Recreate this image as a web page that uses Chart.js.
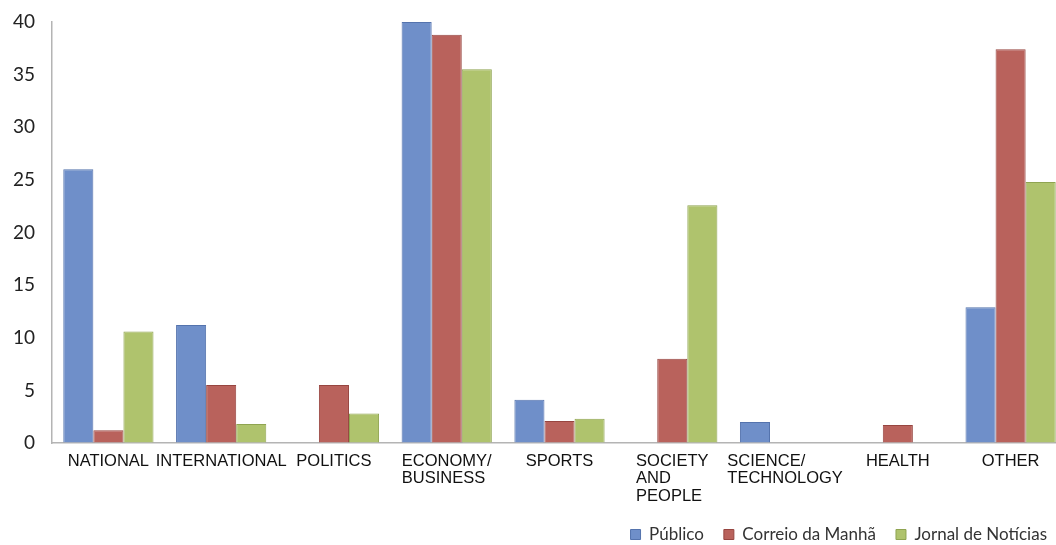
<!DOCTYPE html>
<html>
<head>
<meta charset="utf-8">
<title>News topics by newspaper</title>
<script src="https://cdn.jsdelivr.net/npm/chart.js@4.4.0/dist/chart.umd.min.js"></script>
<style>
  html, body { margin: 0; padding: 0; background: #fff; overflow: hidden; }
  #wrap { width: 1068px; height: 553px; }
</style>
</head>
<body>
<div id="wrap"><canvas id="out" width="1068" height="553"></canvas></div>
<script>
// topics on the x axis (arrays = wrapped labels)
const categories = [
  'NATIONAL', 'INTERNATIONAL', 'POLITICS', ['ECONOMY/', 'BUSINESS'], 'SPORTS',
  ['SOCIETY', 'AND', 'PEOPLE'], ['SCIENCE/', 'TECHNOLOGY'], 'HEALTH', 'OTHER'
];

// share of news per topic, %
const publico = [26.0, 11.2, 0, 40.0, 4.1, 0, 2.0, 0, 12.9];
const correio = [1.2, 5.5, 5.5, 38.8, 2.1, 8.0, 0, 1.7, 37.4];
const jornal  = [10.6, 1.8, 2.8, 35.5, 2.3, 22.6, 0, 0, 24.8];

const seriesNames = ['Público', 'Correio da Manhã', 'Jornal de Notícias'];
const yTicks = [0, 5, 10, 15, 20, 25, 30, 35, 40];

const fills   = ['#6f8fc9', '#b9625c', '#afc36d'];
const borders = ['#5473ad', '#974540', '#8fa451'];

const xFont = '16.5px "Liberation Sans", Arial, sans-serif';
const xLineH = 17.5;

// x labels: each wrapped block centred on its tick, lines left-aligned
const xLabels = {
  id: 'xLabels',
  afterDraw(chart) {
    const ctx = chart.ctx;
    const x = chart.scales.x;
    ctx.save();
    ctx.font = xFont;
    ctx.fillStyle = '#111';
    ctx.textBaseline = 'top';
    ctx.textAlign = 'left';
    categories.forEach((lab, i) => {
      const lines = Array.isArray(lab) ? lab : [lab];
      const w = Math.max(...lines.map(l => ctx.measureText(l).width));
      const left = x.getPixelForTick(i) - w / 2;
      lines.forEach((l, j) => {
        ctx.fillText(l, left, chart.chartArea.bottom + 10 + j * xLineH);
      });
    });
    ctx.restore();
  }
};

const data = [publico, correio, jornal];

new Chart(document.getElementById('out'), {
  type: 'bar',
  data: {
    labels: categories,
    datasets: data.map((d, i) => ({
      label: seriesNames[i],
      data: d,
      backgroundColor: fills[i],
      borderColor: borders[i],
      borderWidth: 1,
      categoryPercentage: 0.8,
      barPercentage: 1.0
    }))
  },
  options: {
    responsive: false,
    animation: false,
    layout: { padding: { top: 22, right: 1, left: 0, bottom: 0 } },
    plugins: {
      tooltip: { enabled: false },
      legend: {
        position: 'bottom',
        align: 'end',
        labels: {
          boxWidth: 10,
          boxHeight: 10,
          padding: 20,
          color: '#333',
          font: { family: 'Lato', size: 17 }
        }
      }
    },
    scales: {
      x: {
        grid: { display: false },
        border: { display: true, color: '#b4b4b4', width: 1.5 },
        ticks: { display: false },
        afterFit(scale) { scale.height = 63; }
      },
      y: {
        min: yTicks[0],
        max: yTicks[yTicks.length - 1],
        // invisible tick marks push the labels away from the axis line
        grid: { display: true, drawOnChartArea: false, drawTicks: true, tickLength: 17, color: 'rgba(0,0,0,0)' },
        border: { display: true, color: '#b4b4b4', width: 1.5 },
        ticks: {
          stepSize: yTicks[1] - yTicks[0],
          padding: 0,
          color: '#222',
          font: { family: 'Lato', size: 19 }
        },
        afterFit(scale) { scale.width = 52; }
      }
    }
  },
  plugins: [xLabels]
});
</script>
</body>
</html>
